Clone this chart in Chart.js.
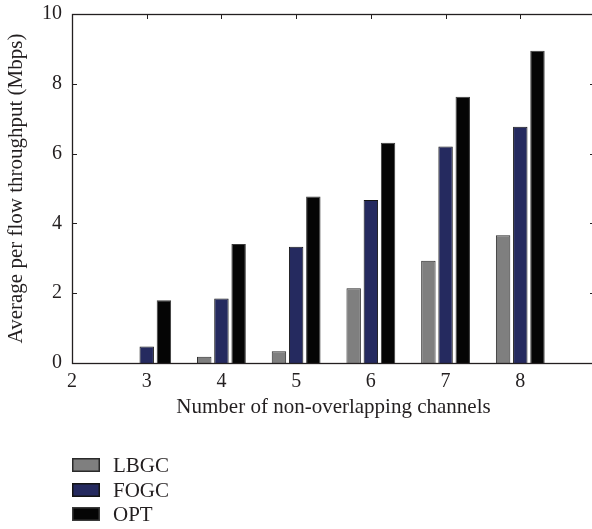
<!DOCTYPE html>
<html>
<head>
<meta charset="utf-8">
<script src="https://cdn.jsdelivr.net/npm/chart.js@4/dist/chart.umd.min.js"></script>
<style>
  html, body { margin: 0; padding: 0; background: #fff; overflow: hidden; }
  canvas { display: block; }
</style>
</head>
<body>
<canvas id="c" width="600" height="529"></canvas>
<script>
// Number of non-overlapping channels
const categories = [3, 4, 5, 6, 7, 8];
// Average per flow throughput (Mbps) per scheme
const lbgc = [0, 0.18, 0.34, 2.14, 2.93, 3.66];
const fogc = [0.47, 1.85, 3.33, 4.67, 6.2, 6.77];
const opt  = [1.8, 3.41, 4.77, 6.31, 7.63, 8.95];
// Axis tick labels
const xTickLabels = ['2', '3', '4', '5', '6', '7', '8'];
const yTickValues = [0, 2, 4, 6, 8, 10];

const seriesNames = ['LBGC', 'FOGC', 'OPT'];
const seriesValues = [lbgc, fogc, opt];
const fills = ['#7f7f7f', '#252a5f', '#050505'];
const edges = ['#2a2a2a', '#141414', '#3a3a3a'];

const ink = '#231f20';
const fontFamily = '"Liberation Serif", "DejaVu Serif", serif';
Chart.defaults.font.family = fontFamily;
Chart.defaults.font.size = 20;
Chart.defaults.color = ink;

// Frame with inward tick marks on all four sides
const framePlugin = {
  id: 'frame',
  beforeDatasetsDraw(chart) {
    const { ctx, chartArea: a, scales: { x, y } } = chart;
    ctx.save();
    ctx.strokeStyle = ink;
    ctx.lineWidth = 1;
    ctx.beginPath();
    x.ticks.forEach(t => {
      const px = Math.round(x.getPixelForValue(t.value)) + 0.5;
      ctx.moveTo(px, a.top); ctx.lineTo(px, a.top + 5);
      ctx.moveTo(px, a.bottom); ctx.lineTo(px, a.bottom - 5);
    });
    yTickValues.forEach(v => {
      const py = Math.round(y.getPixelForValue(v)) + 0.5;
      ctx.moveTo(a.left, py); ctx.lineTo(a.left + 5, py);
      ctx.moveTo(a.right, py); ctx.lineTo(a.right - 5, py);
    });
    ctx.stroke();
    ctx.restore();
  },
  afterDatasetsDraw(chart) {
    const { ctx, chartArea: a } = chart;
    ctx.save();
    ctx.strokeStyle = ink;
    ctx.lineWidth = 1.3;
    ctx.strokeRect(Math.round(a.left) + 0.5, Math.round(a.top) + 0.5,
                   Math.round(a.right - a.left), Math.round(a.bottom - a.top));
    ctx.restore();
  }
};

// Stacked legend below the plot, one series per row
const stackedLegend = {
  id: 'stackedLegend',
  afterDraw(chart) {
    const { ctx, chartArea: a } = chart;
    ctx.save();
    ctx.font = '21px ' + fontFamily;
    ctx.textBaseline = 'middle';
    ctx.textAlign = 'left';
    chart.data.datasets.forEach((ds, i) => {
      const bx = Math.round(a.left);
      const by = Math.round(a.bottom + 95 + i * 24.5);
      ctx.fillStyle = ds.backgroundColor;
      ctx.fillRect(bx, by, 28, 14);
      ctx.strokeStyle = ds.borderColor;
      ctx.lineWidth = 1.5;
      ctx.strokeRect(bx + 0.75, by + 0.75, 26.5, 12.5);
      ctx.fillStyle = ink;
      ctx.fillText(ds.label, bx + 41, by + 8);
    });
    ctx.restore();
  }
};

new Chart(document.getElementById('c'), {
  type: 'bar',
  data: {
    datasets: seriesNames.map((name, i) => ({
      label: name,
      data: categories.map((c, j) => ({ x: c, y: seriesValues[i][j] })),
      backgroundColor: fills[i],
      borderColor: edges[i],
      borderWidth: 1,
      categoryPercentage: 0.69,
      barPercentage: 0.84
    }))
  },
  options: {
    responsive: false,
    devicePixelRatio: 1,
    animation: false,
    layout: { padding: { top: 14, right: 5, bottom: 109, left: 0 } },
    plugins: { legend: { display: false }, tooltip: { enabled: false } },
    scales: {
      x: {
        type: 'linear',
        min: 2, max: 9,
        offset: false,
        grid: { display: false, drawTicks: false },
        border: { display: false },
        ticks: {
          stepSize: 1, padding: 7, maxRotation: 0, autoSkip: false,
          font: { size: 20 },
          callback: v => xTickLabels[v - 2] ?? ''
        },
        title: {
          display: true, text: 'Number of non-overlapping channels',
          font: { size: 21 },
          padding: { top: 0, bottom: 0 }
        },
        afterFit: s => {
          s.height = 57;
          s.paddingLeft = 0; s.paddingRight = 0;
        }
      },
      y: {
        min: 0, max: 10,
        grid: { display: false, drawTicks: false },
        border: { display: false },
        ticks: { stepSize: 2, padding: 10, font: { size: 20 } },
        title: {
          display: true, text: 'Average per flow throughput (Mbps)',
          font: { size: 21 },
          padding: { top: 4, bottom: 0 }
        },
        afterFit: s => {
          s.width = 72;
          s.paddingTop = 0; s.paddingBottom = 0;
        }
      }
    }
  },
  plugins: [framePlugin, stackedLegend]
});
</script>
</body>
</html>
